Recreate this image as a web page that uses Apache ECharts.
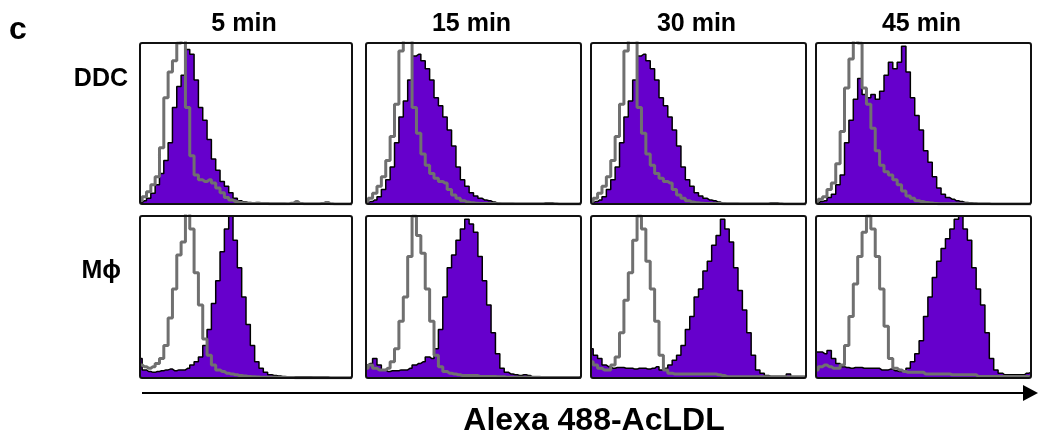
<!DOCTYPE html>
<html>
<head>
<meta charset="utf-8">
<script src="https://cdn.jsdelivr.net/npm/echarts@6/dist/echarts.min.js"></script>
<style>
  html, body { margin: 0; padding: 0; background: #ffffff; }
  #chart { width: 1038px; height: 439px; }
</style>
</head>
<body>
<div id="chart"></div>
<script>
// ---- data (relative cell counts, % of panel max, 50 fluorescence channels) ----
const timeLabels = ['5 min', '15 min', '30 min', '45 min'];
const rowLabels = ['DDC', 'M\u03D5'];
const axisTitle = 'Alexa 488-AcLDL';
const panelLetter = 'c';

// DDC row: gray = unlabeled control, purple = AcLDL-labeled
const ddc5Ctrl  = [2,4.5,7.6,12,17,35,66,82,89,100,105,60,30,18,15,14,15,13,10,7,4,2.5,1.5,1,0.5,0.3,0.3,0.3,0.3,0.3,0.2,0.2,0.2,0.2,0.2,0.5,1.5,0.3,0.2,0.2,0.2,0.2,0.3,1,0.2,0,0,0,0,0];
const ddc5Lig   = [1,2,3.5,6.6,12,19,27,38,60,73,80,96,93,77,60,52,40,28,21,14,11,7,3.5,2,1.2,1,0.8,1,0.8,0.5,0.3,0.3,0.3,0.3,0.2,0.2,0.2,0.2,0.1,0.1,0.1,0.1,0.1,0.1,0.1,0,0,0,0,0];
const ddc15Ctrl = [1.5,3.5,6.6,11,17,27,42,62,95,102,102,60,44,31,24,19,16,14,13,9,5.6,3.5,2,1.2,0.8,0.5,0.3,0.3,0.3,0.3,0.2,0.2,0.2,0.1,0.1,0.1,0.1,0.1,0.1,0.1,0.1,0.1,0.1,0.1,0,0,0,0,0,0];
const ddc15Lig  = [1,1.5,2.5,4.5,9,15,23,38,54,64,77,92,93,89,84,77,66,61,54,46,36,23,15,11,7,5,3.5,2.5,2,1.2,0.5,0.3,0.3,0.3,0.2,0.2,0.2,0.2,0.2,0.2,0.2,0.8,0.8,0.2,0.1,0,0,0,0,0];
const ddc30Ctrl = [1.5,3.5,6.6,11,17,27,42,62,95,102,102,60,44,31,24,19,16,14,13,9,5.6,3.5,2,1.2,0.8,0.5,0.3,0.3,0.3,0.3,0.2,0.2,0.2,0.1,0.1,0.1,0.1,0.1,0.1,0.1,0.1,0.1,0.1,0.1,0,0,0,0,0,0];
const ddc30Lig  = [1,1.5,2.5,4.5,9,15,23,38,54,64,77,92,93,89,84,77,66,61,54,46,36,23,15,11,7,5,3.5,2.5,2,1.2,0.5,0.3,0.3,0.3,0.2,0.2,0.2,0.2,0.2,0.2,0.2,0.8,0.8,0.2,0.1,0,0,0,0,0];
const ddc45Ctrl = [1.5,3,4.5,9,13,25,45,72,90,102,100,72,62,47,33,24,20,18,15,12,8,5,3.5,2,1.5,1,0.6,0.3,0.1,0.1,0.1,0.1,0.1,0.1,0.1,0.1,0.1,0.1,0.1,0.1,0,0,0,0,0,0,0,0,0,0];
const ddc45Lig  = [0.5,1.5,2,4,6,12,18,38,52,65,78,68,66,68,65,70,80,88,84,88,98,82,66,55,46,33,26,17,10,6,4,3,2,1.5,1,0.8,0.5,0.2,0.2,0.2,0.1,0.1,0.1,0.1,0.1,0,0,0,0,0];

// Macrophage row
const mph5Ctrl  = [8,7,6,7,9,12,20,37,55,76,84,102,92,65,45,24,14,8,5,4,3,2.5,2,1.5,1.2,1,0.8,0.6,0.5,0.5,0.4,0.4,0.3,0.3,0.3,0.3,0.2,0.2,0.2,0.2,0.2,0.2,0.2,0.2,0.2,0.2,0.2,0.2,0.2,0.2];
const mph5Lig   = [12,5,4,3.5,4,4.5,5,5.5,4.5,5,5,6,8,10,13,20,30,46,60,78,92,100,85,68,50,33,20,10,6,3.5,2,1.5,1.2,1,0.8,0.8,0.8,0.8,0.8,0.8,0.6,0.6,0.6,0.6,0.2,0.2,0.2,0.2,0.2,0.2];
const mph15Ctrl = [6,8,6,5,5,6,10,18,35,50,75,100,88,77,55,35,14,7,4,3,2.5,2,1.5,1.5,1.5,1.5,1,1,1,1,0.8,0.8,0.5,0.5,0.5,0.5,0.5,0.5,0.5,0.5,0.3,0.3,0.3,0.3,0.3,0.3,0.3,0.3,0.3,0.3];
const mph15Lig  = [8,9,12,8,5,4,4.5,4.5,5,5,6,8,9,10,13,12,18,30,50,68,76,85,92,98,95,90,75,60,45,28,15,6,3.5,2.5,2,1.5,2,1.5,0.5,0.2,0.2,0.2,0.2,0.2,0.2,0.2,0.2,0.2,0.2,0.2];
const mph30Ctrl = [10,8,6,5,5,8,13,28,48,65,85,100,92,72,55,35,14,5,3,2.5,2.5,2.5,2.5,2.5,2.5,2.5,2.5,2.5,2.5,2,1.5,0.8,0.8,0.8,0.8,0.8,0.8,0.8,0.8,0.8,0.8,0.8,0.8,0.8,0.8,0.8,0.8,0.8,0.8,0.8];
const mph30Lig  = [18,14,12,8,7,6,6.5,6.5,6,6,5.5,6,6,5.5,6,7,5,6,8,11,14,20,30,38,50,55,66,72,82,88,98,92,84,68,54,42,28,14,5,3,1.5,1,1,1,1,2.5,0.5,0.3,0.3,0.3];
const mph45Ctrl = [5,7,8,7,6,6,8,20,38,58,75,90,100,92,75,55,32,12,6,5,4,3.5,3.5,3.5,3.5,2.5,2.5,2.5,2.5,2.5,2.5,2,2,2,2,2,2,1,1,1,1,1,1,1,1,1,1,1,1,1];
const mph45Lig  = [16,16,15,17,12,9,7,6.5,6,6.5,6.5,6,6,6,6,5,5,5.5,4.5,4,4.5,6,10,15,23,38,50,62,72,80,86,92,98,100,92,85,68,55,45,28,12,5,3,2,2,2,2,2,3,3.5];

const channels = ddc5Ctrl.map((_, i) => String(i));

// ---- layout / style (not data) ----
const colLeft  = [140, 366, 591, 816];
const colWidth = [212, 215, 215, 215];
const rowTop   = [43, 216];
const rowHeight = [161, 162];
const PURPLE = '#6600cc';
const GRAY = '#707070';
const FONT = '"Liberation Sans", Arial, Helvetica, sans-serif';

const panels = [
  [ddc5Ctrl, ddc5Lig], [ddc15Ctrl, ddc15Lig], [ddc30Ctrl, ddc30Lig], [ddc45Ctrl, ddc45Lig],
  [mph5Ctrl, mph5Lig], [mph15Ctrl, mph15Lig], [mph30Ctrl, mph30Lig], [mph45Ctrl, mph45Lig]
];

const grid = [], xAxis = [], yAxis = [], series = [], graphic = [];
panels.forEach((p, k) => {
  const r = Math.floor(k / 4), c = k % 4;
  grid.push({ left: colLeft[c], top: rowTop[r], width: colWidth[c], height: rowHeight[r], show: false });
  xAxis.push({ type: 'category', gridIndex: k, data: channels, boundaryGap: false, show: false });
  yAxis.push({ type: 'value', gridIndex: k, min: 0, max: 100, show: false });
  series.push({
    type: 'line', xAxisIndex: k, yAxisIndex: k, data: p[1], step: 'middle',
    symbol: 'none', silent: true, animation: false,
    lineStyle: { color: '#000000', width: 1.5 },
    areaStyle: { color: PURPLE, opacity: 1 }, z: 2
  });
  series.push({
    type: 'line', xAxisIndex: k, yAxisIndex: k, data: p[0], step: 'middle',
    symbol: 'none', silent: true, animation: false,
    lineStyle: { color: GRAY, width: 3 }, z: 3
  });
  graphic.push({
    type: 'rect', z: 100, silent: true,
    shape: { x: colLeft[c], y: rowTop[r], width: colWidth[c], height: rowHeight[r], r: 2 },
    style: { fill: 'none', stroke: '#111111', lineWidth: 2 }
  });
});

timeLabels.forEach((t, c) => {
  graphic.push({
    type: 'text', z: 100, x: colLeft[c] + colWidth[c] / 2 - 2, y: 24,
    style: { text: t, font: 'bold 25px ' + FONT, fill: '#000', textAlign: 'center', textVerticalAlign: 'middle' }
  });
});
graphic.push({
  type: 'text', z: 100, x: 128, y: 79,
  style: { text: rowLabels[0], font: 'bold 25px ' + FONT, fill: '#000', textAlign: 'right', textVerticalAlign: 'middle' }
});
graphic.push({
  type: 'text', z: 100, x: 121, y: 271,
  style: { text: rowLabels[1], font: 'bold 25px ' + FONT, fill: '#000', textAlign: 'right', textVerticalAlign: 'middle' }
});
graphic.push({
  type: 'text', z: 100, x: 9, y: 30,
  style: { text: panelLetter, font: 'bold 32px ' + FONT, fill: '#000', textAlign: 'left', textVerticalAlign: 'middle' }
});
graphic.push({
  type: 'text', z: 100, x: 594, y: 421,
  style: { text: axisTitle, font: 'bold 32px ' + FONT, fill: '#000', textAlign: 'center', textVerticalAlign: 'middle' }
});
graphic.push({
  type: 'line', z: 100, silent: true,
  shape: { x1: 142, y1: 393, x2: 1026, y2: 393 },
  style: { stroke: '#000', lineWidth: 2 }
});
graphic.push({
  type: 'polygon', z: 100, silent: true,
  shape: { points: [[1023, 385], [1038, 393], [1023, 401]] },
  style: { fill: '#000' }
});

const chart = echarts.init(document.getElementById('chart'), null, { renderer: 'canvas' });
chart.setOption({
  animation: false,
  backgroundColor: '#ffffff',
  grid, xAxis, yAxis, series, graphic
});
</script>
</body>
</html>
